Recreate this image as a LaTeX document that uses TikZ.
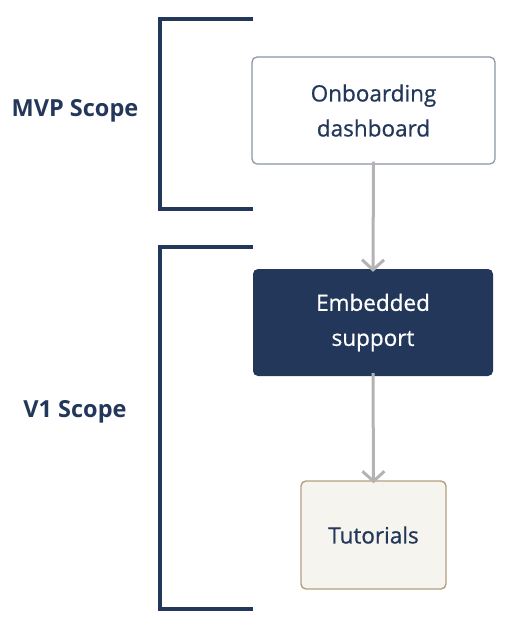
\documentclass[tikz,border=0pt]{standalone}
\usepackage{fontspec}
\setmainfont{Open Sans}
\newfontfamily\boxfont{Open Sans}[FakeBold=0.7]
\usetikzlibrary{arrows.meta}
\definecolor{navy}{HTML}{22375A}
\definecolor{arrowgray}{HTML}{B3B3B3}
\definecolor{boxborder}{HTML}{8A94A6}
\definecolor{tutfill}{HTML}{F6F4EF}
\definecolor{tutborder}{HTML}{B49E80}
\tikzset{
  bracket/.style={draw=navy, line width=3.2pt},
  boxbase/.style={rounded corners=5pt, align=center, font=\boxfont\fontsize{22.5}{35}\selectfont, inner sep=0pt},
  flow/.style={draw=arrowgray, line width=3pt, -{Straight Barb[length=10pt,width=22pt,line width=3pt]}},
  scopelabel/.style={font=\fontsize{23.5}{28}\selectfont\bfseries, text=navy}
}
\begin{document}
\begin{tikzpicture}[x=1pt,y=-1pt]
\useasboundingbox (0,0) rectangle (505,630);
% brackets
\draw[bracket] (253,19) -- (160,19) -- (160,209) -- (253,209);
\draw[bracket] (253,247) -- (160,247) -- (160,609) -- (253,609);
\node[scopelabel] (mvp) at (75,111) {MVP Scope};
\node[scopelabel] (v1) at (75,412) {V1 Scope};
% boxes
\node[boxbase, draw=boxborder, line width=1.2pt, fill=white, text=navy, minimum width=243pt, minimum height=107pt] (onb) at (373.5,110.5) {Onboarding\\dashboard};
\node[boxbase, fill=navy, text=white, minimum width=240pt, minimum height=107pt] (emb) at (373,322.5) {Embedded\\support};
\node[boxbase, draw=tutborder, line width=1.4pt, fill=tutfill, text=navy, minimum width=145pt, minimum height=108pt] (tut) at (373.5,535) {Tutorials};
% arrows
\draw[flow] ([yshift=3pt]onb.south) -- ([yshift=-3pt]emb.north);
\draw[flow] ([yshift=3pt]emb.south) -- ([yshift=-3pt]tut.north);
\end{tikzpicture}
\end{document}
